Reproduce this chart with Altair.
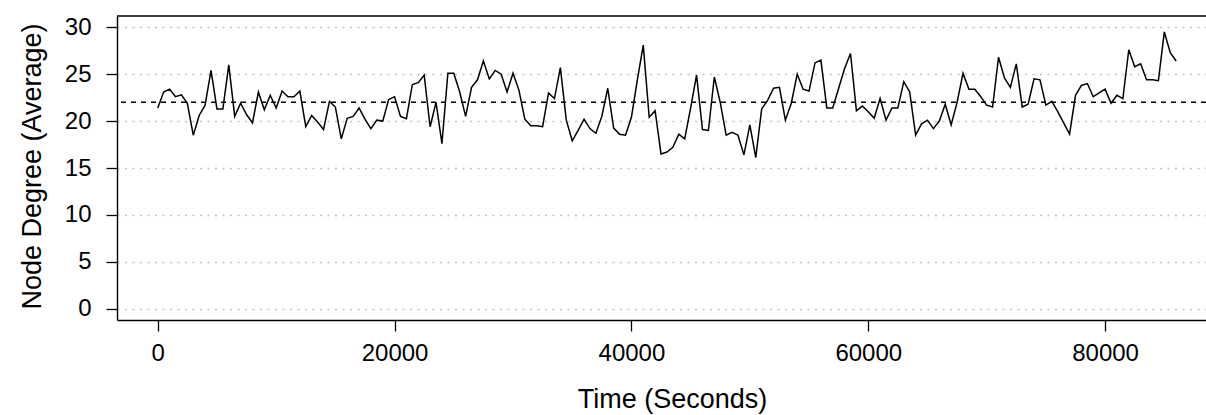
import altair as alt
import pandas as pd

# Sampling interval (seconds) and average node degree per sample
interval_s = 500
degree = [
    21.4, 23.1, 23.4, 22.6, 22.8, 21.9, 18.5, 20.6, 21.7, 25.4,
    21.3, 21.3, 26.0, 20.5, 21.9, 20.7, 19.8, 23.1, 21.2, 22.75,
    21.4, 23.2, 22.6, 22.6, 23.2, 19.4, 20.6, 19.9, 19.1, 22.1,
    21.5, 18.1, 20.3, 20.5, 21.4, 20.2, 19.2, 20.1, 20.0, 22.3,
    22.6, 20.5, 20.25, 23.9, 24.1, 24.9, 19.4, 22.0, 17.6, 25.1,
    25.1, 23.1, 20.5, 23.6, 24.4, 26.4, 24.5, 25.4, 25.0, 23.1,
    25.1, 23.3, 20.2, 19.5, 19.5, 19.4, 23.0, 22.4, 25.7, 20.1,
    17.9, 19.0, 20.2, 19.2, 18.7, 20.5, 23.5, 19.25, 18.6, 18.5,
    20.4, 24.4, 28.1, 20.4, 21.1, 16.5, 16.7, 17.2, 18.6, 18.1,
    21.4, 24.9, 19.1, 19.0, 24.7, 22.0, 18.5, 18.8, 18.5, 16.4,
    19.6, 16.1, 21.3, 22.2, 23.5, 23.6, 20.1, 21.9, 25.0, 23.4,
    23.2, 26.2, 26.5, 21.4, 21.4, 23.5, 25.6, 27.2, 21.1, 21.6,
    21.0, 20.3, 22.4, 20.1, 21.4, 21.4, 24.2, 23.1, 18.5, 19.7,
    20.1, 19.2, 20.0, 21.8, 19.6, 22.0, 25.1, 23.4, 23.4, 22.6,
    21.7, 21.5, 26.8, 24.6, 23.6, 26.1, 21.5, 21.8, 24.5, 24.4,
    21.7, 22.1, 21.0, 19.8, 18.6, 22.75, 23.8, 24.0, 22.6, 23.0,
    23.4, 21.9, 22.75, 22.4, 27.6, 25.8, 26.1, 24.4, 24.4, 24.3,
    29.5, 27.3, 26.4,
]
time_s = [i * interval_s for i in range(len(degree))]
reference_level = [22.0]
x_ticks = [0, 20000, 40000, 60000, 80000]
y_ticks = [0, 5, 10, 15, 20, 25, 30]

df = pd.DataFrame({"time": time_s, "degree": degree})
ref = pd.DataFrame({"level": reference_level})

W, H = 1089, 304
FONT = "Liberation Sans"

xscale = alt.Scale(domain=[-3440, 88520], nice=False, zero=False)
yscale = alt.Scale(domain=[-1.2, 31.2], nice=False, zero=False)

xaxis = alt.Axis(
    values=x_ticks, format="d", title="Time (Seconds)", grid=False,
    domainColor="black", domainWidth=1.4, tickColor="black", tickWidth=1.3,
    tickSize=11, labelFontSize=24, labelFont=FONT, labelColor="black",
    labelPadding=10, titleFont=FONT, titleFontSize=27, titleFontWeight="normal",
    titleColor="black", titleX=555, titleY=79, titleBaseline="middle",
    titleAnchor="middle", labelFlush=False,
)
yaxis = alt.Axis(
    values=y_ticks, title="Node Degree (Average)", grid=True,
    gridColor="#c4c4c4", gridDash=[2, 5.5], gridWidth=1.3,
    domainColor="black", domainWidth=1.4, tickColor="black", tickWidth=1.3,
    tickSize=11, labelFontSize=24, labelFont=FONT, labelColor="black",
    labelPadding=15, titleFont=FONT, titleFontSize=27, titleFontWeight="normal",
    titleColor="black", titleAngle=-90, titleX=-85, titleY=150,
    titleBaseline="middle", titleAnchor="middle", labelFlush=False,
)

line = alt.Chart(df).mark_line(color="black", strokeWidth=1.5).encode(
    x=alt.X("time:Q", scale=xscale, axis=xaxis),
    y=alt.Y("degree:Q", scale=yscale, axis=yaxis),
)

hline = alt.Chart(ref).mark_rule(color="black", strokeWidth=1.4, strokeDash=[5, 5]).encode(
    y=alt.Y("level:Q", scale=yscale),
)

topline = alt.Chart(ref).mark_rule(color="black", strokeWidth=1.4).encode(
    x=alt.value(0), x2=alt.value(W), y=alt.value(0),
)

chart = alt.layer(line, hline, topline).properties(
    width=W, height=H,
    autosize=alt.AutoSizeParams(type="none"),
    padding={"left": 117, "top": 16, "right": 0, "bottom": 95},
    background="white",
).configure_view(stroke=None)

chart.save("out.html", embed_options={"renderer": "svg", "actions": False})
